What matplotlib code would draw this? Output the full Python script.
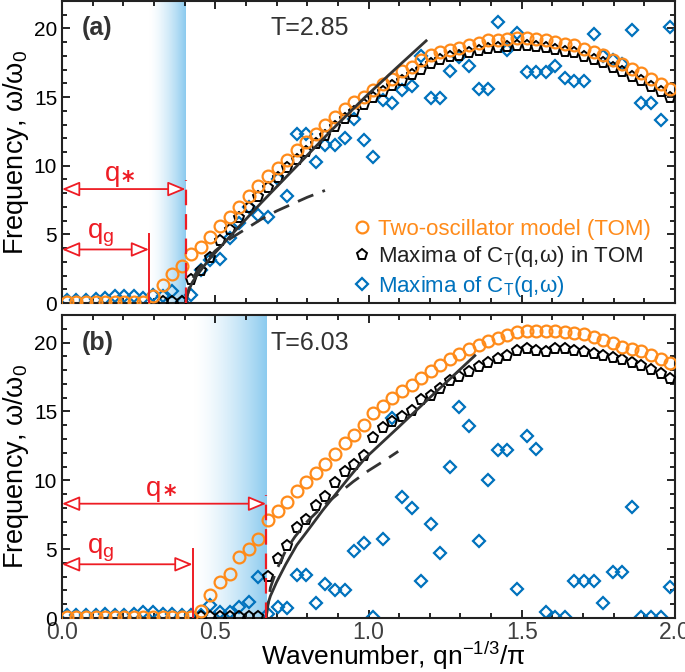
import numpy as np
import matplotlib.pyplot as plt
from matplotlib.colors import LinearSegmentedColormap
from matplotlib.ticker import MultipleLocator

plt.rcParams['font.family'] = ['Liberation Sans', 'DejaVu Sans']
plt.rcParams['mathtext.fontset'] = 'custom'
plt.rcParams['mathtext.rm'] = 'Liberation Sans'
plt.rcParams['mathtext.it'] = 'Liberation Sans:italic'

nan = np.nan
# wavenumber grid, qn^-1/3/pi
q = (np.arange(64) + 0.5) / 32

# ---- panel (a), T=2.85 ----
tom_a = [0.1, 0.1, 0.1, 0.1, 0.1, 0.1, 0.1, 0.1, 0.1, 0.5,
         1.3, 2.1, 2.7, 3.55, 4.1, 4.82, 5.6, 6.28, 7.0, 7.78,
         8.5, 9.24, 9.87, 10.45, 11.13, 11.73, 12.34, 12.95, 13.55, 14.16,
         14.64, 15.0, 15.54, 15.98, 16.34, 16.87, 17.2, 17.67, 18.03, 18.28,
         18.45, 18.57, 18.76, 18.93, 19.13, 19.18, 19.25, 19.32, 19.32, 19.25,
         19.18, 19.0, 18.88, 18.76, 18.52, 18.28, 18.03, 17.67, 17.43, 17.07,
         16.75, 16.34, 15.98, 15.6]
tommax_a = [nan] * 10 + [
         0.05, 0.05, 0.1, 1.7, 2.3, 3.3, 4.5, 5.3, 6.2, 6.9,
         7.7, 8.4, 9.1, 9.8, 10.4, 11.0, 11.6, 12.2, 12.8, 13.4,
         13.9, 14.4, 14.9, 15.4, 15.8, 16.2, 16.6, 17.0, 17.4, 17.7,
         17.9, 18.0, 18.2, 18.35, 18.5, 18.6, 18.65, 18.7, 18.7, 18.65,
         18.6, 18.45, 18.3, 18.2, 17.95, 17.7, 17.45, 17.1, 16.85, 16.5,
         16.15, 15.75, 15.35, 14.9]
ct_a = [0.2, 0.2, 0.2, 0.3, 0.4, 0.5, 0.5, 0.5, 0.4, 0.6,
        0.5, 0.9, 0.1, 0.6, 2.4, 3.1, 3.2, 4.7, 5.8, 7.0,
        6.4, 6.3, 9.0, 7.8, 12.3, 12.3, 10.3, 11.5, 11.5, 12.0,
        13.4, 11.9, 10.6, 14.8, 14.6, 15.5, 15.8, 18.0, 14.9, 14.9,
        16.9, 17.9, 17.3, 15.6, 15.6, 20.5, 18.4, 19.7, 16.8, 16.8,
        16.8, 17.3, 16.4, 16.2, 16.2, 19.6, 18.0, 17.7, 17.4, 19.9,
        14.6, 14.6, 13.3, 20.1]
solid_a_q = [0.403, 0.408, 0.415, 0.425, 0.44, 0.46, 0.483, 0.55, 0.65, 0.767, 0.88, 0.989, 1.09, 1.188]
solid_a_w = [0.0, 0.5, 1.0, 1.5, 2.0, 2.6, 3.25, 4.9, 7.3, 10.0, 12.6, 15.0, 17.1, 19.1]
dash_a_q = [0.403, 0.42, 0.45, 0.5, 0.55, 0.6, 0.65, 0.7, 0.75, 0.8, 0.858]
dash_a_w = [0.0, 1.6, 2.6, 3.8, 4.7, 5.4, 6.1, 6.7, 7.2, 7.7, 8.2]
qg_a, qs_a = 0.284, 0.403

# ---- panel (b), T=6.03 ----
tom_b = [0.1] * 14 + [
         0.5, 1.65, 2.6, 3.2, 4.4, 5.0, 5.7, 7.1, 7.75, 8.45,
         9.2, 9.85, 10.5, 11.2, 11.9, 12.7, 13.3, 14.0, 14.9, 15.4,
         16.0, 16.5, 16.95, 17.45, 17.9, 18.35, 18.8, 19.2, 19.5, 19.85,
         20.1, 20.35, 20.55, 20.75, 20.85, 20.85, 20.85, 20.85, 20.8, 20.7,
         20.6, 20.4, 20.2, 19.95, 19.7, 19.5, 19.37, 19.13, 18.8, 18.52]
tommax_b = [nan] * 14 + [
         0.05, 0.05, 0.05, 0.05, 0.05, 0.05, 0.05, 3.0, 4.3, 5.2,
         6.5, 7.1, 8.1, 8.8, 9.8, 10.6, 11.1, 11.75, 13.1, 13.8,
         14.2, 14.6, 15.0, 15.8, 16.15, 16.6, 17.2, 17.5, 17.85, 18.2,
         18.5, 18.8, 19.05, 19.35, 19.5, 19.37, 19.3, 19.54, 19.54, 19.37,
         19.3, 19.2, 19.0, 18.88, 18.7, 18.5, 18.3, 18.04, 17.75, 17.36]
ct_b = [0.2, 0.2, 0.2, 0.2, 0.3, 0.2, 0.2, 0.3, 0.4, 0.4,
        0.3, 0.3, 0.2, 0.2, 0.2, 0.95, 0.46, 0.46, 0.82, 1.19,
        3.0, 0.3, 0.8, 0.75, 3.13, 3.13, 1.07, 2.5, 2.05, 2.05,
        4.9, 5.48, 0.1, 5.75, 14.5, 8.8, 8.0, 2.7, 6.85, 4.7,
        10.96, 15.3, 13.96, 5.62, 10.0, 12.17, 12.17, 2.1, 13.2, 12.28,
        0.46, 0.05, 0.05, 2.7, 2.7, 2.7, 1.07, 3.35, 3.35, 8.05,
        0.05, 0.05, 0.05, 2.28]
solid_b_q = [0.666, 0.67, 0.68, 0.70, 0.73, 0.766, 0.80, 0.85, 0.94, 0.989, 1.1, 1.2, 1.347]
solid_b_w = [0.0, 0.9, 1.6, 2.6, 3.9, 5.3, 6.3, 7.8, 10.3, 11.6, 13.9, 16.0, 19.05]
dash_b_q = [0.666, 0.68, 0.70, 0.73, 0.76, 0.80, 0.85, 0.90, 0.95, 1.0, 1.05, 1.097]
dash_b_w = [0.0, 2.2, 3.5, 4.9, 5.9, 7.0, 8.1, 9.0, 9.9, 10.7, 11.4, 12.1]
qg_b, qs_b = 0.426, 0.666

ORANGE = '#ff8b1a'
BLUE = '#0072bd'
RED = '#ee1c24'
shade = LinearSegmentedColormap.from_list('shade', ['#ffffff', '#8ccbef'])


def panel(ax, tom, tommax, ct, sq, sw, dq, dw, qg, qs, tag, temp, xq, legend=False):
    grad = np.linspace(0, 1, 256) ** 1.5
    ax.imshow(grad[None, :], extent=[qg, qs, 0, 22], aspect='auto', cmap=shade,
              vmin=0, vmax=1, zorder=0, interpolation='bilinear')

    l3, = ax.plot(q, ct, 'D', mfc='none', mec=BLUE, ms=6, mew=1.6, ls='none', zorder=2,
                  label=r'Maxima of $\mathregular{C_T}$(q,ω)')
    l2, = ax.plot(q, tommax, 'p', mfc='none', mec='black', ms=8, mew=1.4, ls='none', zorder=3,
                  label=r'Maxima of $\mathregular{C_T}$(q,ω) in TOM')
    l1, = ax.plot(q, tom, 'o', mfc='none', mec=ORANGE, ms=8.5, mew=1.6, ls='none', zorder=4,
                  label='Two-oscillator model (TOM)')
    ax.plot(sq, sw, color='#333333', lw=2, zorder=5)
    ax.plot(dq, dw, color='#333333', lw=2, ls=(0, (6, 3.5)), zorder=5)

    # red markers of q_g and q_*
    ax.plot([qg, qg], [0, 5.0], color=RED, lw=1.4, zorder=6)
    ax.plot([qs, qs], [0, 8.95], color=RED, lw=1.6, ls=(0, (7, 4)), zorder=6)
    aprops = dict(arrowstyle='<|-|>,head_length=0.6,head_width=0.25', ec=RED, fc='white',
                  lw=1.3, mutation_scale=18, shrinkA=0, shrinkB=0)
    ax.annotate('', xy=(0, 8.3), xytext=(qs, 8.3), arrowprops=aprops, zorder=6)
    ax.annotate('', xy=(0, 3.9), xytext=(qg, 3.9), arrowprops=aprops, zorder=6)
    ax.text(xq, 9.4, 'q', color=RED, fontsize=20, ha='right', va='center')
    ax.text(xq + 0.005, 8.9, '*', color=RED, fontsize=17, fontweight='bold',
            family='DejaVu Sans', ha='left', va='center')
    ax.text(0.125, 4.9, r'$\mathregular{q_g}$', color=RED, fontsize=20, ha='center', va='center')

    ax.text(0.065, 20, tag, fontsize=18, fontweight='bold', color='#333333', va='center')
    ax.text(0.68, 20, temp, fontsize=18, color='#333333', va='center')

    ax.set_xlim(0, 2)
    ax.set_ylim(0, 22)
    ax.xaxis.set_major_locator(MultipleLocator(0.5))
    ax.xaxis.set_minor_locator(MultipleLocator(0.1))
    ax.yaxis.set_major_locator(MultipleLocator(5))
    ax.yaxis.set_minor_locator(MultipleLocator(1))
    ax.tick_params(which='both', direction='in', top=True, right=True, width=1.2)
    ax.tick_params(which='major', length=6)
    ax.tick_params(which='minor', length=3.5)
    ax.tick_params(axis='y', labelsize=15)
    ax.tick_params(axis='x', labelsize=16.5, labelcolor='#404040', pad=2)
    for s in ax.spines.values():
        s.set_linewidth(1.5)
        s.set_color('#222222')
    ax.set_ylabel(r'Frequency, $\mathregular{\omega/\omega_0}$', fontsize=19.5)
    ax.yaxis.set_label_coords(-0.05, 0.5)

    if legend:
        ax.legend(handles=[l1, l2, l3], loc='lower right', bbox_to_anchor=(0.99, -0.045),
                  frameon=False, fontsize=16, handlelength=0.8, handletextpad=0.35,
                  labelspacing=0.2, borderpad=0.3,
                  labelcolor=[ORANGE, '#222222', BLUE])


fig = plt.figure(figsize=(6.85, 6.72), dpi=100)
ax_a = fig.add_axes([62 / 685, 1 - 303 / 672, 613 / 685, 302 / 672])
ax_b = fig.add_axes([62 / 685, 1 - 618 / 672, 613 / 685, 303 / 672])

panel(ax_a, tom_a, tommax_a, ct_a, solid_a_q, solid_a_w, dash_a_q, dash_a_w,
      qg_a, qs_a, '(a)', 'T=2.85', 0.19, legend=True)
panel(ax_b, tom_b, tommax_b, ct_b, solid_b_q, solid_b_w, dash_b_q, dash_b_w,
      qg_b, qs_b, '(b)', 'T=6.03', 0.325)

ax_a.tick_params(axis='x', labelbottom=False)
ax_b.set_xticks([0, 0.5, 1.0, 1.5, 2.0], ['0.0', '0.5', '1.0', '1.5', '2.0'])
ax_b.set_xlabel(r'Wavenumber, qn$\mathregular{^{-1/3}}$/π', fontsize=19, va='baseline')
ax_b.xaxis.set_label_coords(0.54, -0.155)

fig.savefig('out.png', dpi=100)
